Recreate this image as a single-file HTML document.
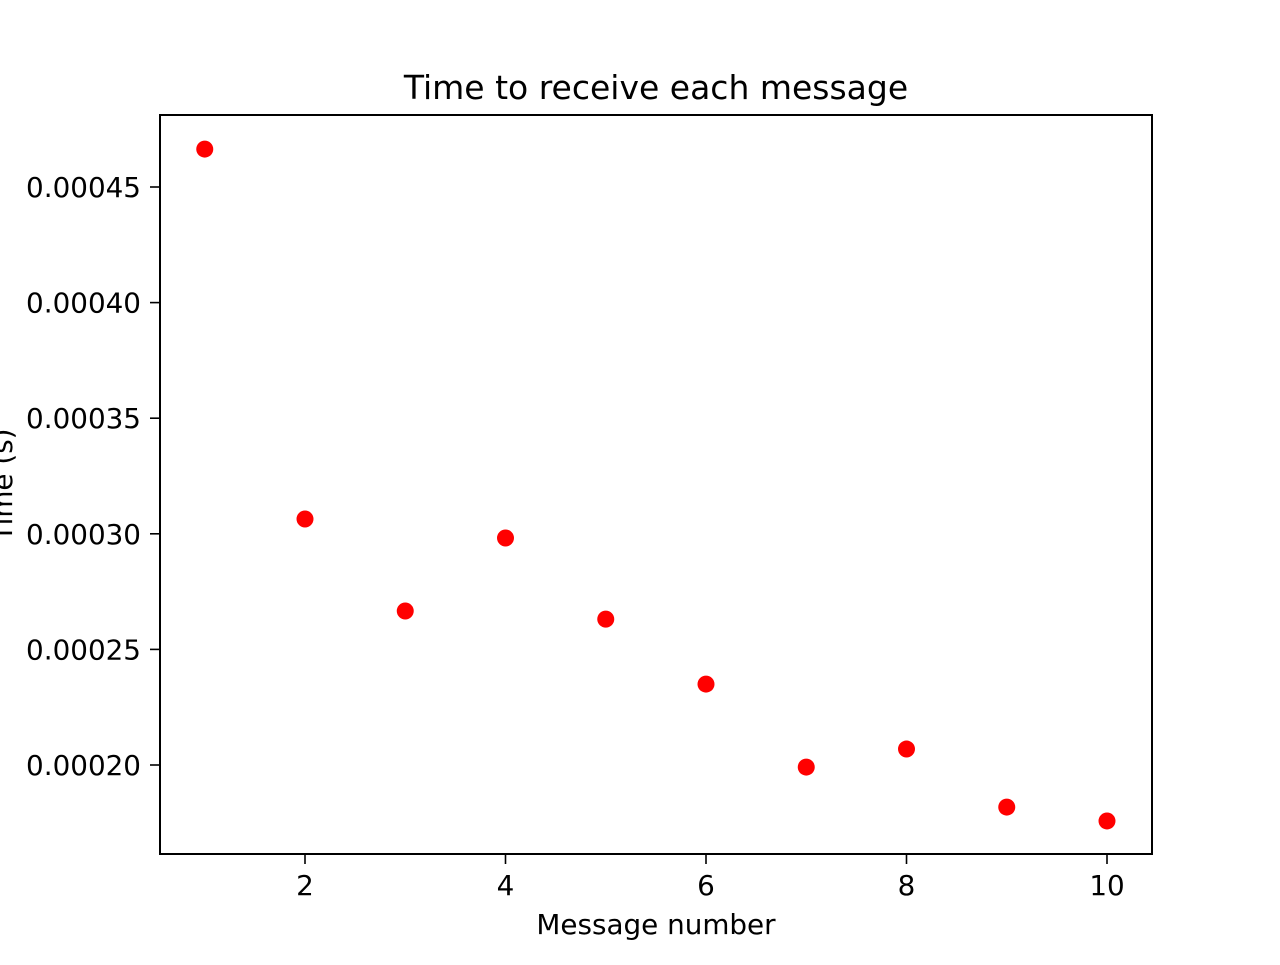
<!DOCTYPE html>
<html><head><meta charset="utf-8"><style>
html,body{margin:0;padding:0;background:#fff;}
text{font-family:"DejaVu Sans","Liberation Sans",sans-serif;fill:#000;}
</style></head><body>
<svg id="chart" width="1280" height="960" xmlns="http://www.w3.org/2000/svg">
<rect width="1280" height="960" fill="#fff"/>
<text x="656" y="99" font-size="33" text-anchor="middle">Time to receive each message</text>
<text x="656" y="934" font-size="27.8" text-anchor="middle">Message number</text>
<text transform="translate(12,485) rotate(-90)" font-size="27.8" text-anchor="middle">Time (s)</text>
<g id="ticks"></g>
<g id="points"></g>
<rect x="160" y="115" width="992" height="739" fill="none" stroke="#000" stroke-width="2"/>
</svg>
<script>
const xs = [1,2,3,4,5,6,7,8,9,10];
const times = [0.0004664,0.0003064,0.0002666,0.0002982,0.0002631,0.000235,0.0001991,0.0002069,0.0001818,0.0001758];
const xTicks = [2,4,6,8,10];
const yTicks = [0.0002,0.00025,0.0003,0.00035,0.0004,0.00045];
const yTickLabels = ["0.00020","0.00025","0.00030","0.00035","0.00040","0.00045"];
const NS="http://www.w3.org/2000/svg";
function xScale(v){return 305+(v-2)*100.25;}
function yScale(v){return 765-(v-0.0002)/0.00005*115.6;}
const tg=document.getElementById('ticks');
xTicks.forEach(t=>{
  const l=document.createElementNS(NS,'line');
  l.setAttribute('x1',xScale(t));l.setAttribute('x2',xScale(t));
  l.setAttribute('y1',854);l.setAttribute('y2',864);
  l.setAttribute('stroke','#000');l.setAttribute('stroke-width','1.6');
  
  
  tg.appendChild(l);
  const tx=document.createElementNS(NS,'text');
  tx.setAttribute('x',xScale(t));tx.setAttribute('y',895);
  tx.setAttribute('font-size','27.8');tx.setAttribute('text-anchor','middle');
  tx.textContent=t;
  
  
  tg.appendChild(tx);
});
yTicks.forEach((t,i)=>{
  const l=document.createElementNS(NS,'line');
  l.setAttribute('x1',150);l.setAttribute('x2',160);
  l.setAttribute('y1',yScale(t));l.setAttribute('y2',yScale(t));
  l.setAttribute('stroke','#000');l.setAttribute('stroke-width','1.6');
  
  
  tg.appendChild(l);
  const tx=document.createElementNS(NS,'text');
  tx.setAttribute('x',141);tx.setAttribute('y',yScale(t)+10);
  tx.setAttribute('font-size','27.8');tx.setAttribute('text-anchor','end');
  tx.textContent=yTickLabels[i];
  
  
  tg.appendChild(tx);
});
const pg=document.getElementById('points');
xs.forEach((x,i)=>{
  const c=document.createElementNS(NS,'circle');
  c.setAttribute('cx',xScale(x));c.setAttribute('cy',yScale(times[i]));
  c.setAttribute('r',8.5);c.setAttribute('fill','#ff0000');
  
  
  pg.appendChild(c);
});
</script>
</body></html>
